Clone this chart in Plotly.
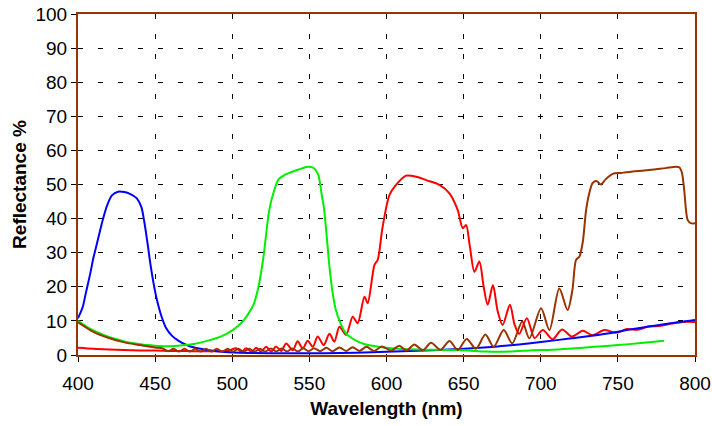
import plotly.graph_objects as go

# ---- data ----
blue_x = [400, 403, 405, 408, 410, 413, 416, 419, 422, 426, 430, 434, 438, 441, 443, 445, 447, 449, 451, 454,
          457, 461, 465, 470, 476, 485, 495, 510, 530, 550, 570, 590, 610, 630, 650, 670, 686, 700, 720, 740,
          760, 780, 790, 800]
blue_y = [10.8, 14, 18, 24, 28.5, 34, 39.5, 44, 46.8, 47.9, 47.8, 47.2, 46, 43.5, 39, 33, 26.5, 21, 16.5, 11.5,
          8, 5.6, 4.2, 3.0, 2.1, 1.4, 0.9, 0.6, 0.5, 0.5, 0.6, 0.8, 1.1, 1.4, 1.8, 2.4, 3.1, 3.8, 4.9, 6.1,
          7.6, 9.0, 9.7, 10.3]

green_x = [400, 405, 410, 415, 420, 425, 430, 435, 440, 445, 450, 455, 460, 465, 470, 475, 480, 485, 490, 495,
           500, 505, 508, 511, 514, 517, 520, 524, 527, 530, 534, 538, 543, 549, 552, 554, 556, 558, 559.5, 561,
           563, 565, 567, 570, 573, 576, 580, 585, 595, 605, 620, 635, 650, 665, 680, 695, 705, 720, 735, 750,
           765, 780]
green_y = [10, 8.5, 7.2, 6.2, 5.3, 4.6, 4.0, 3.5, 3.2, 2.9, 2.7, 2.6, 2.6, 2.7, 2.9, 3.2, 3.7, 4.3, 5.0, 5.9,
           7.2, 9, 10.5, 12.5, 15, 20, 28, 42.5, 48, 51.5, 52.8, 53.6, 54.4, 55.2, 55.0, 54.3, 52.5, 47, 43, 36,
           26, 18.5, 13.5, 9.5, 6.8, 5.4, 4.3, 3.3, 2.4, 1.9, 1.6, 1.5, 1.4, 1.0, 1.0, 1.4, 1.5, 1.9, 2.4, 2.9,
           3.5, 4.2]

red_x = [400, 410, 420, 430, 440, 450, 460, 470, 480, 490, 496, 499, 502.5, 506, 509, 512.5, 515.5, 518.7,
         522, 525.2, 528.4, 531.7, 535, 539.2, 542.4, 545.7, 548.9, 552.2, 555.4, 559.3, 563, 566.2, 569.5,
         573.8, 578.1, 581.3, 585.7, 587.8, 592.2, 594.3, 597.5, 601.9, 606.2, 612.7, 620, 625.7, 634.3,
         640.8, 646.2, 649.4, 651.6, 654, 657, 660.2, 663, 665.6, 669, 672, 675.3, 680, 683, 686, 691, 696,
         701.3, 707.7, 713.8, 720.3, 727.2, 733.6, 741.2, 748.8, 756, 763, 770, 777, 785, 792, 800]
red_y = [2.1, 1.8, 1.6, 1.45, 1.35, 1.3, 1.2, 1.15, 1.1, 1.1, 1.1, 1.5, 2.0, 0.9, 2.0, 0.9, 2.1, 1.0,
         2.4, 1.0, 2.5, 1.2, 3.4, 1.4, 4.0, 1.9, 4.2, 2.4, 5.4, 2.9, 6.2, 3.9, 8.3,
         5.9, 11.2, 9.3, 17.1, 15.2, 26.4, 27.9, 37.6, 46.9, 49.9, 52.6, 52.2, 51.3, 49.9,
         47.4, 42.5, 37.2, 38.1, 32, 24.4, 27.4, 20, 14.7, 20.5, 13, 8.8, 14.7, 9, 6.2, 10.8, 5.0,
         7.3, 4.6, 7.5, 5.4, 7.1, 5.8, 7.3, 6.5, 7.6, 7.4, 8.4, 8.5, 9.2, 9.7, 9.7]

brown_x = [400, 410, 420, 430, 440, 450, 455, 458.5, 462, 465.5, 469, 472.5, 476, 479.5, 483, 486.5, 490,
           493.5, 497, 500.5, 504, 507.5, 511, 514.5, 518, 521.5, 525, 528.5, 532, 535.5, 539, 542.5, 546,
           549.5, 553, 557, 561, 565, 569.5, 574, 578, 582.5, 587, 592, 597, 603, 608.3, 613, 618, 623.5,
           628.9, 635, 640.8, 646.2, 652, 658, 664.1, 669.5, 676, 681.5, 688, 692.6, 700.2, 705.6, 712,
           717.4, 720.5, 722.9, 725, 727.2, 729.4, 731.5, 733.6, 736, 739, 742, 746.6, 752, 759.6, 767,
           774.7, 781, 787.7, 790, 791.5, 793, 795.2, 797, 800]
brown_y = [9.6, 6.8, 5.0, 3.7, 2.9, 2.2, 1.9, 1.1, 1.8, 1.0, 1.8, 1.0, 1.8, 1.0, 1.8, 1.0, 1.8,
           1.0, 1.8, 1.0, 1.8, 1.0, 1.8, 1.0, 1.8, 1.0, 1.9, 1.0, 1.9, 1.0, 1.9, 1.0, 2.0,
           1.1, 2.0, 1.1, 2.1, 1.1, 2.2, 1.2, 2.3, 1.2, 2.4, 1.2, 2.5, 1.3, 2.7, 1.3, 3.1, 1.4,
           3.6, 1.5, 4.1, 1.5, 4.7, 1.8, 6.0, 2.4, 7.3, 3.4, 9.8, 4.9, 13.7, 7.3, 19.5,
           13.2, 19, 27.9, 28.8, 33, 42.5, 47.5, 50.4, 51, 50, 51.5, 53.1, 53.4, 53.8, 54.1,
           54.5, 54.8, 55.2, 55.0, 53.5, 48.4, 39.6, 38.7, 38.6]

x_ticks = [400, 450, 500, 550, 600, 650, 700, 750, 800]
y_ticks = [0, 10, 20, 30, 40, 50, 60, 70, 80, 90, 100]

BROWN = "#993300"

fig = go.Figure()
series = [
    (red_x, red_y, "#FF0000"),
    (blue_x, blue_y, "#0000FF"),
    (green_x, green_y, "#00EE00"),
    (brown_x, brown_y, BROWN),
]
for xs, ys, col in series:
    fig.add_trace(go.Scatter(x=xs, y=ys, mode="lines",
                             line=dict(color=col, width=2, shape="spline", smoothing=0.8),
                             showlegend=False, hoverinfo="skip"))

font_family = "Liberation Sans, Arial, sans-serif"
fig.update_layout(
    width=712, height=426,
    margin=dict(l=78, r=17, t=14, b=71),
    paper_bgcolor="white", plot_bgcolor="white",
    font=dict(family=font_family, size=19, color="black"),
    xaxis=dict(range=[400, 800], tickvals=x_ticks, ticktext=[str(v) for v in x_ticks],
               automargin=False, ticklabelstandoff=5,
               showgrid=True, gridcolor="black", gridwidth=1, griddash="5px,15px",
               showline=True, linecolor=BROWN, linewidth=2, mirror=True,
               ticks="outside", ticklen=5, tickcolor="black", tickwidth=1,
               zeroline=False, tickfont=dict(size=19),
               title=dict(text="<b>Wavelength (nm)</b>", font=dict(size=19), standoff=9)),
    yaxis=dict(range=[0, 100], tickvals=y_ticks, ticktext=[str(v) for v in y_ticks],
               automargin=False,
               showgrid=True, gridcolor="black", gridwidth=1, griddash="5px,15px",
               showline=True, linecolor=BROWN, linewidth=2, mirror=True,
               ticks="outside", ticklen=5, tickcolor="black", tickwidth=1,
               zeroline=False, tickfont=dict(size=19),
               title=dict(text="<b>Reflectance %</b>", font=dict(size=19), standoff=4)),
)

fig.write_html("out.html")
